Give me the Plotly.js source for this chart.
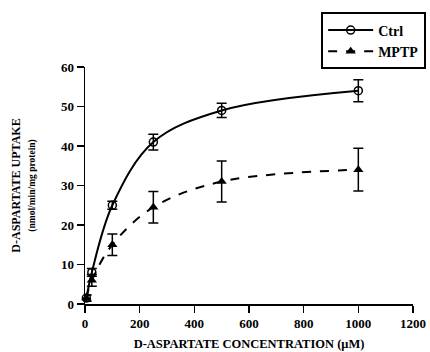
<!DOCTYPE html>
<html>
<head>
<meta charset="utf-8">
<script src="https://cdn.plot.ly/plotly-3.0.1.min.js"></script>
<style>html,body{margin:0;padding:0;background:#fff;}#chart{width:430px;height:352px;}</style>
</head>
<body>
<div id="chart"></div>
<script>
const concentrations = [5, 25, 100, 250, 500, 1000];
const ctrlUptake = [1.5, 8, 25, 41, 49, 54];
const ctrlError = [0.8, 1, 1, 2, 1.8, 2.8];
const mptpUptake = [1.5, 6, 15, 24.5, 31, 34];
const mptpError = [0.8, 1.5, 2.7, 4, 5.2, 5.4];
const seriesNames = ["Ctrl", "MPTP"];
const xTicks = [0, 200, 400, 600, 800, 1000, 1200];
const yTicks = [0, 10, 20, 30, 40, 50, 60];

const serif = "Liberation Serif, DejaVu Serif, serif";

const traces = [
  {
    x: concentrations, y: ctrlUptake, name: seriesNames[0], type: "scatter", mode: "lines+markers",
    line: {color: "#000", width: 2, shape: "spline", smoothing: 1},
    marker: {symbol: "circle-open", size: 8, color: "#000", line: {width: 1.5, color: "#000"}},
    error_y: {type: "data", array: ctrlError, visible: true, color: "#000", thickness: 1.5, width: 5},
    cliponaxis: false
  },
  {
    x: concentrations, y: mptpUptake, name: seriesNames[1], type: "scatter", mode: "lines+markers",
    line: {color: "#000", width: 2, dash: "dash", shape: "spline", smoothing: 1},
    marker: {symbol: "triangle-up", size: 9, color: "#000"},
    error_y: {type: "data", array: mptpError, visible: true, color: "#000", thickness: 1.5, width: 5},
    cliponaxis: false
  }
];

const layout = {
  width: 430, height: 352,
  margin: {l: 85, r: 17, t: 67, b: 48, autoexpand: false},
  paper_bgcolor: "#fff", plot_bgcolor: "#fff",
  font: {family: serif, color: "#000", size: 13, weight: "bold"},
  showlegend: true,
  legend: {
    x: 0.72, y: 1.23, xanchor: "left", yanchor: "top",
    bordercolor: "#000", borderwidth: 2, bgcolor: "#fff",
    font: {family: serif, size: 14, color: "#000", weight: "bold"},
    tracegroupgap: 0, itemwidth: 45
  },
  xaxis: {
    range: [0, 1200], tickvals: xTicks, ticktext: xTicks.map(String),
    showgrid: false, zeroline: false, showline: true, linecolor: "#000", linewidth: 1.5,
    ticks: "outside", ticklen: 7, tickwidth: 1.5, tickcolor: "#000",
    tickfont: {family: serif, size: 13, color: "#000", weight: "bold"},
    title: {text: "D-ASPARTATE CONCENTRATION (μM)", font: {family: serif, size: 12.5, color: "#000", weight: "bold"}, standoff: 9},
    automargin: false
  },
  yaxis: {
    range: [0, 60], tickvals: yTicks, ticktext: yTicks.map(String),
    showgrid: false, zeroline: false, showline: true, linecolor: "#000", linewidth: 1.5,
    ticks: "outside", ticklen: 7, tickwidth: 1.5, tickcolor: "#000",
    tickfont: {family: serif, size: 13, color: "#000", weight: "bold"},
    title: {text: "D-ASPARTATE UPTAKE<br><span style='font-size:9.5px'>(nmol/min/mg protein)</span>", font: {family: serif, size: 12, color: "#000", weight: "bold"}, standoff: 22},
    automargin: false
  }
};

Plotly.newPlot("chart", traces, layout, {displayModeBar: false, staticPlot: true});
</script>
</body>
</html>
